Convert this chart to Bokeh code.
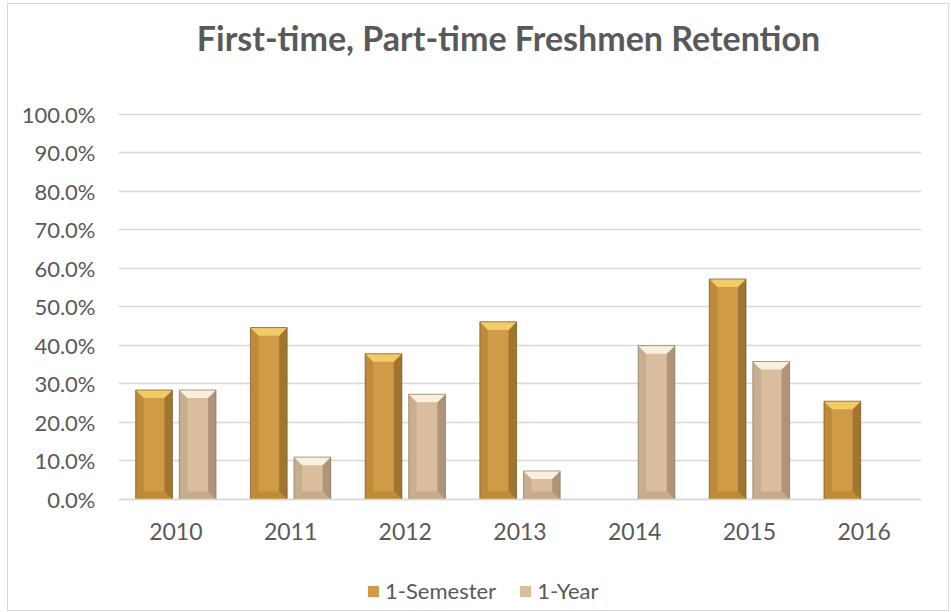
from bokeh.plotting import figure
from bokeh.models import (ColumnDataSource, FixedTicker, NumeralTickFormatter, Range1d,
                          Legend, LegendItem, Label)
from bokeh.embed import file_html
from bokeh.resources import INLINE

title_text = "First-time, Part-time Freshmen Retention"
years = ["2010", "2011", "2012", "2013", "2014", "2015", "2016"]
semester = [0.284, 0.446, 0.378, 0.461, None, 0.572, 0.255]
one_year = [0.284, 0.110, 0.273, 0.074, 0.399, 0.358, None]
y_ticks = [i / 10 for i in range(11)]

FONT = "Lato"
TXT = "#595959"
GRID = "#d9d9d9"

# frame spans the whole chart box; value axis 0..1 sits inside it
p = figure(width=940, height=606, output_backend="svg", toolbar_location=None,
           x_range=Range1d(-0.5, 6.5), y_range=Range1d(-0.2776, 1.2789),
           min_border_left=110, min_border_right=27, min_border_top=2, min_border_bottom=4)
p.styles = {"margin-left": "8px", "margin-top": "4px", "outline": "1px solid #d9d9d9"}

p.outline_line_color = None
p.xgrid.grid_line_color = None
p.ygrid.grid_line_color = GRID
p.ygrid.grid_line_width = 1.3
p.yaxis.ticker = FixedTicker(ticks=y_ticks)
p.ygrid.ticker = FixedTicker(ticks=y_ticks)
p.yaxis.formatter = NumeralTickFormatter(format="0.0%")
p.yaxis.axis_line_color = None
p.yaxis.major_tick_line_color = None
p.yaxis.minor_tick_line_color = None
p.yaxis.major_label_standoff = 17
p.yaxis.major_label_text_font_size = "22px"
p.xaxis.fixed_location = 0
p.xaxis.ticker = FixedTicker(ticks=list(range(len(years))))
p.xaxis.major_label_overrides = {i: y for i, y in enumerate(years)}
p.xaxis.axis_line_color = GRID
p.xaxis.axis_line_width = 1.3
p.xaxis.major_tick_line_color = None
p.xaxis.minor_tick_line_color = None
p.xaxis.major_label_standoff = 18
p.xaxis.major_label_text_font_size = "23px"
for ax in (p.xaxis, p.yaxis):
    ax.major_label_text_font = FONT
    ax.major_label_text_color = TXT

W = 0.32
BX = 0.07   # bevel inset in x units
BY = 0.021  # bevel in y units

styles = {
    "sem": dict(main="#CF9B46", top="#F3CB66", bottom="#B9882F", left="#A8782E", right="#7A5520"),
    "yr": dict(main="#D9BD9D", top="#FBF0E0", bottom="#C2A683", left="#B49C80", right="#8A735A"),
}

def draw(values, off, st):
    xs, tops = [], []
    for i, v in enumerate(values):
        if v is None:
            continue
        xs.append(i + off)
        tops.append(v)
    src = ColumnDataSource(dict(x=xs, top=tops))
    r = p.vbar(x="x", top="top", width=W, source=src, fill_color=st["main"], line_color=None)
    tx, lx, rx = [], [], []
    for x, t in zip(xs, tops):
        l, rr = x - W / 2, x + W / 2
        tx.append([l, rr, rr - BX, l + BX])
        lx.append([l, l + BX, l + BX, l])
        rx.append([rr, rr - BX, rr - BX, rr])
    bys_ = [min(BY, t / 3) for t in tops]
    tys = [[t, t, t - b, t - b] for t, b in zip(tops, bys_)]
    bys = [[0, 0, b, b] for b in bys_]
    lys = [[t, t - b, b, 0] for t, b in zip(tops, bys_)]
    p.patches(lx, lys, fill_color=st["left"], fill_alpha=0.45, line_color=None)
    p.patches(rx, lys, fill_color=st["right"], fill_alpha=0.55, line_color=None)
    p.patches(tx, bys, fill_color=st["bottom"], fill_alpha=0.8, line_color=None)
    p.patches(tx, tys, fill_color=st["top"], line_color=None)
    p.vbar(x="x", top="top", width=W, source=src, fill_color=None,
           line_color=st["right"], line_width=1, line_alpha=0.7)
    return r

r1 = draw(semester, -0.19, styles["sem"])
r2 = draw(one_year, 0.19, styles["yr"])

title = Label(x=390, y=569, x_units="screen", y_units="screen", text=title_text,
              text_align="center", text_baseline="alphabetic", text_font=FONT,
              text_font_size="34px", text_font_style="bold", text_color=TXT)
p.add_layout(title)

legend = Legend(items=[LegendItem(label="1-Semester", renderers=[r1]),
                       LegendItem(label="1-Year", renderers=[r2])],
                orientation="horizontal", location=(248, 2))
legend.border_line_color = None
legend.background_fill_alpha = 0
legend.label_text_font = FONT
legend.label_text_font_size = "22px"
legend.label_text_color = TXT
legend.glyph_width = 14
legend.glyph_height = 14
legend.spacing = 22
legend.label_standoff = 5
legend.margin = 0
legend.padding = 0
p.add_layout(legend, "center")

open("out.html", "w").write(file_html(p, INLINE))
